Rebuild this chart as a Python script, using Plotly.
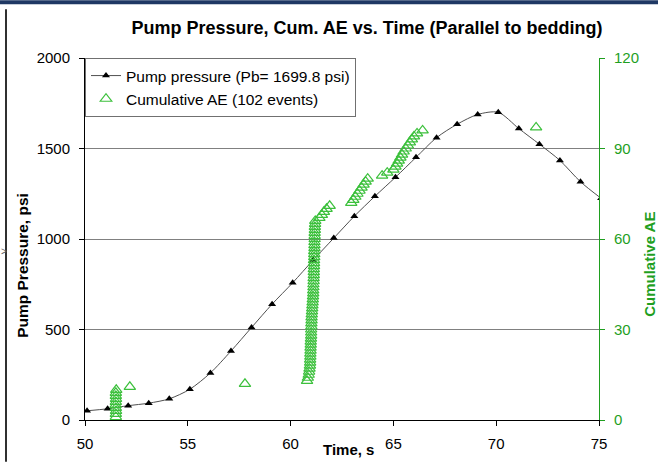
import plotly.graph_objects as go

# ---------------- data ----------------
p_time = [50.1, 51.1, 52.1, 53.1, 54.1, 55.1, 56.1, 57.1, 58.1, 59.1, 60.1, 61.1, 62.1,
          63.1, 64.1, 65.1, 66.1, 67.1, 68.1, 69.1, 70.1, 71.1, 72.1, 73.1, 74.1, 75.1]
p_psi = [51, 62, 79, 93, 117, 170, 260, 381, 511, 640, 758, 884, 1005,
         1126, 1236, 1341, 1451, 1560, 1634, 1688, 1699.8, 1610, 1524, 1434, 1316, 1225]

ae_time = [51.50, 51.50, 51.51, 51.50, 51.49, 51.50, 51.51, 51.50, 51.50, 51.52,
           52.18, 57.78,
           60.80, 60.84, 60.88, 60.90, 60.92, 60.94, 60.95, 60.95, 60.96, 60.96,
           60.97, 60.97, 60.98, 60.98, 60.99, 61.00, 61.00, 61.00, 61.01, 61.01,
           61.02, 61.02, 61.03, 61.04, 61.05, 61.06, 61.07, 61.08, 61.09, 61.10,
           61.10, 61.11, 61.11, 61.12, 61.12, 61.13, 61.13, 61.13, 61.14, 61.14,
           61.14, 61.15, 61.15, 61.15, 61.16, 61.16, 61.16, 61.17, 61.17, 61.17,
           61.18, 61.18, 61.19, 61.20,
           61.40, 61.52, 61.62, 61.75, 61.90,
           62.95, 63.05, 63.15, 63.25, 63.35, 63.45, 63.55, 63.65, 63.75,
           64.45, 64.70,
           65.00, 65.10, 65.18, 65.26, 65.34, 65.42, 65.50, 65.60, 65.70, 65.80, 65.90, 66.00,
           66.15, 66.42,
           71.94]
ae_count = [1, 2, 3, 4, 5, 6, 7, 8, 9, 10,
            11, 12,
            13, 14, 15, 16, 17, 18, 19, 20, 21, 22,
            23, 24, 25, 26, 27, 28, 29, 30, 31, 32,
            33, 34, 35, 36, 37, 38, 39, 40, 41, 42,
            43, 44, 45, 46, 47, 48, 49, 50, 51, 52,
            53, 54, 55, 56, 57, 58, 59, 60, 61, 62,
            63, 64, 65, 66,
            67, 68, 69, 70, 71,
            72, 73, 74, 75, 76, 77, 78, 79, 80,
            81, 82,
            83, 84, 85, 86, 87, 88, 89, 90, 91, 92, 93, 94,
            95, 96,
            97]

x_ticks = [50, 55, 60, 65, 70, 75]
y_left_ticks = [0, 500, 1000, 1500, 2000]
y_right_ticks = [0, 30, 60, 90, 120]

title_text = "Pump Pressure, Cum. AE vs. Time (Parallel to bedding)"
p_name = "Pump pressure (Pb= 1699.8 psi)"
ae_name = "Cumulative AE (102 events)"

GREEN = "#1f9f1f"
FONT = "Liberation Sans, Arial, sans-serif"

W, H = 658, 464
L, R, T, B = 85, 59, 58, 42
PW, PH = W - L - R, H - T - B


def px(xp):
    return (xp - L) / PW


def py(yp):
    return (H - B - yp) / PH


fig = go.Figure()
fig.add_trace(go.Scatter(
    x=p_time, y=p_psi, name=p_name, mode="lines+markers",
    line=dict(color="#505050", width=1, shape="spline", smoothing=0.8),
    marker=dict(symbol="triangle-up", color="black", size=7),
    yaxis="y",
))
fig.add_trace(go.Scatter(
    x=ae_time, y=ae_count, name=ae_name, mode="markers",
    marker=dict(symbol="triangle-up-open", color="#3cc03c", size=10,
                line=dict(width=1.2)),
    yaxis="y2",
))

fig.update_layout(
    width=W, height=H,
    margin=dict(l=L, r=R, t=T, b=B),
    paper_bgcolor="white", plot_bgcolor="white",
    font=dict(family=FONT, size=15, color="black"),
    showlegend=True,
    legend=dict(x=0, y=1, xanchor="left", yanchor="top",
                bordercolor="#707070", borderwidth=1, bgcolor="white",
                font=dict(size=15.5), tracegroupgap=0),
    title=dict(text="<b>" + title_text + "</b>", x=px(367), xref="paper",
               xanchor="center", y=1 - 28 / H, yref="container", yanchor="middle",
               font=dict(size=18, family=FONT)),
    xaxis=dict(range=[50, 75], tickvals=x_ticks, showgrid=False, zeroline=False,
               showline=True, linecolor="black", linewidth=1,
               ticks="outside", ticklen=5, tickcolor="black",
               ticklabelstandoff=5),
    yaxis=dict(range=[0, 2000], tickvals=y_left_ticks, showgrid=True,
               gridcolor="#808080", gridwidth=1, zeroline=False,
               showline=True, linecolor="black", linewidth=1,
               ticks="outside", ticklen=5, tickcolor="black",
               ticklabelstandoff=6),
    yaxis2=dict(range=[0, 120], tickvals=y_right_ticks, overlaying="y", side="right",
                showgrid=False, zeroline=False, showline=True, linecolor=GREEN,
                linewidth=1, ticks="outside", ticklen=5, tickcolor=GREEN,
                tickfont=dict(color=GREEN), ticklabelstandoff=6),
)

fig.add_annotation(text="<b>Pump Pressure, psi</b>", textangle=-90,
                   x=px(23), y=py(267), xref="paper", yref="paper",
                   xanchor="center", yanchor="middle",
                   showarrow=False, font=dict(size=15.5))
fig.add_annotation(text="<b>Cumulative AE</b>", textangle=-90,
                   x=px(650), y=py(266), xref="paper", yref="paper",
                   xanchor="center", yanchor="middle",
                   showarrow=False, font=dict(size=15, color=GREEN))
fig.add_annotation(text="<b>Time, s</b>", x=px(348), y=py(452),
                   xref="paper", yref="paper", xanchor="center", yanchor="middle",
                   showarrow=False, font=dict(size=15))
fig.add_annotation(text=">", x=px(4), y=py(253), xref="paper", yref="paper",
                   xanchor="center", yanchor="middle",
                   showarrow=False, font=dict(size=10, color="#606060"))

# slide frame: navy bar on top, dark line at left
fig.add_shape(type="rect", xref="paper", yref="paper",
              x0=px(0), x1=px(W), y0=py(4), y1=py(0),
              fillcolor="#1f3864", line=dict(width=0), layer="above")
fig.add_shape(type="rect", xref="paper", yref="paper",
              x0=px(5), x1=px(7), y0=py(H), y1=py(9),
              fillcolor="#303030", line=dict(width=0), layer="above")

fig.write_html("out.html")
